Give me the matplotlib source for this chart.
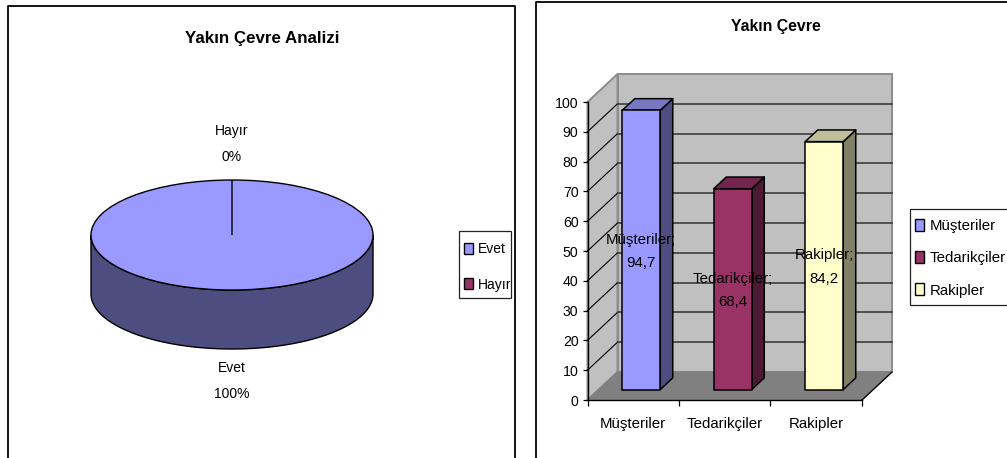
import matplotlib
matplotlib.use("Agg")
import matplotlib.pyplot as plt
import numpy as np
from matplotlib.patches import Polygon, Rectangle, Patch

W, H = 1007, 458
DPI = 100

# Yakın Çevre Analizi (pie)
pie_labels = ["Evet", "Hayır"]
pie_values = [100, 0]
# Yakın Çevre (bars)
bar_labels = ["Müşteriler", "Tedarikçiler", "Rakipler"]
bar_values = [94.7, 68.4, 84.2]
value_ticks = [0, 10, 20, 30, 40, 50, 60, 70, 80, 90, 100]

FACE = ["#9999FF", "#993366", "#FFFFCC"]
TOP = ["#7777C2", "#73264D", "#BFBF99"]
SIDE = ["#4D4D80", "#4D1A33", "#808066"]

plt.rcParams["font.family"] = ["Liberation Sans", "DejaVu Sans"]
FS_PIE = 10.0
FS_BAR = 10.8


def px_axes(fig, left, top, right, bottom):
    return fig.add_axes([left / W, 1 - bottom / H, (right - left) / W, (bottom - top) / H])


fig = plt.figure(figsize=(W / DPI, H / DPI), dpi=DPI, facecolor="white")

# Panel frames, open towards the page edge
bg = fig.add_axes([0, 0, 1, 1])
bg.set_xlim(0, W)
bg.set_ylim(H, 0)
bg.axis("off")
bg.plot([7.5, 7.5, 515, 515], [H, 6, 6, H], color="black", lw=1.3)
bg.plot([536, 536, W], [H, 2, 2], color="black", lw=1.3)

bg.text(262, 39, "Yakın Çevre Analizi", ha="center", va="center", fontsize=12.2, fontweight="bold")
bg.text(776, 27, "Yakın Çevre", ha="center", va="center", fontsize=11.4, fontweight="bold")

# Pie: cylinder side below, sliced top face above
RX, RY, DEPTH = 141, 55, 59
pie_cx, pie_cy = 232, 235
depth_units = DEPTH / RY
ax_pie = px_axes(fig, pie_cx - RX, pie_cy - RY, pie_cx + RX, pie_cy + RY + DEPTH)
theta = np.linspace(np.pi, 2 * np.pi, 200)
side_x = np.concatenate([np.cos(theta), np.cos(theta[::-1])])
side_y = np.concatenate([np.sin(theta) - depth_units, np.sin(theta[::-1])])
ax_pie.add_patch(Polygon(np.column_stack([side_x, side_y]), closed=True, facecolor=SIDE[0],
                         edgecolor="black", lw=1.0, clip_on=False))
ax_pie.pie(pie_values, colors=FACE[:2], startangle=90, counterclock=False, radius=1,
           wedgeprops=dict(edgecolor="black", linewidth=1.0, clip_on=False))
ax_pie.set_aspect("auto")
ax_pie.set_xlim(-1, 1)
ax_pie.set_ylim(-1 - depth_units, 1)
ax_pie.axis("off")

for name, val, y in zip(pie_labels, pie_values, [381, 144]):
    bg.text(pie_cx, y, f"{name}\n{val}%", ha="center", va="center", fontsize=FS_PIE, linespacing=2.05)

# Bars on a front plane 0..3 / 0..100 with a projected depth
L, R, T, B = 587.5, 862, 102, 400
ax = px_axes(fig, L, T, R, B)
ax.set_xlim(0, 3)
ax.set_ylim(0, 100)
ax.patch.set_visible(False)
PX_X = 3 / (R - L)
PX_Y = 100 / (B - T)
SLOPE = 28 / 30
WALL = 30


def proj(x, v, d):
    return (x + d * PX_X, v + d * SLOPE * PX_Y)


ax.add_patch(Polygon([proj(0, 0, WALL), proj(3, 0, WALL), proj(3, 100, WALL), proj(0, 100, WALL)],
                     facecolor="#C0C0C0", edgecolor="#8C8C8C", lw=1.4, clip_on=False, zorder=1))
ax.add_patch(Polygon([proj(0, 0, 0), proj(0, 0, WALL), proj(0, 100, WALL), proj(0, 100, 0)],
                     facecolor="#C0C0C0", edgecolor="#8C8C8C", lw=1.4, clip_on=False, zorder=1))
ax.add_patch(Polygon([proj(0, 0, 0), proj(3, 0, 0), proj(3, 0, WALL), proj(0, 0, WALL)],
                     facecolor="#808080", edgecolor="#808080", lw=1.0, clip_on=False, zorder=1))
for v in value_ticks[1:-1]:
    pts = [proj(0, v, 0), proj(0, v, WALL), proj(3, v, WALL)]
    ax.plot(*zip(*pts[:2]), color="black", lw=0.8, clip_on=False, zorder=2)
    ax.plot(*zip(*pts[1:]), color="#3C3C3C", lw=1.2, clip_on=False, zorder=2)
ax.plot(*zip(proj(3, 0, 0), proj(3, 0, WALL)), color="black", lw=0.9, clip_on=False, zorder=2)

BASE = 1.0
WIDTH = 38 * PX_X
D0, D1 = 8, 20.5
for i, v in enumerate(bar_values):
    x0 = i + 0.5 - WIDTH / 2
    x1 = x0 + WIDTH
    kw = dict(edgecolor="black", lw=1.1, clip_on=False, zorder=3, joinstyle="round")
    ax.add_patch(Polygon([proj(x1, BASE, D0), proj(x1, BASE, D1), proj(x1, v, D1), proj(x1, v, D0)],
                         facecolor=SIDE[i], **kw))
    ax.add_patch(Polygon([proj(x0, v, D0), proj(x1, v, D0), proj(x1, v, D1), proj(x0, v, D1)],
                         facecolor=TOP[i], **kw))
    ax.add_patch(Polygon([proj(x0, BASE, D0), proj(x1, BASE, D0), proj(x1, v, D0), proj(x0, v, D0)],
                         facecolor=FACE[i], **kw))
    cx, cy = proj(i + 0.5, v / 2, D0)
    ax.text(cx, cy, f"{bar_labels[i]};\n{str(v).replace('.', ',')}", ha="center", va="center",
            fontsize=FS_BAR, linespacing=1.85, zorder=4, clip_on=False)

for s in ("top", "right"):
    ax.spines[s].set_visible(False)
for s in ("left", "bottom"):
    ax.spines[s].set_linewidth(1.0)
    ax.spines[s].set_zorder(2.5)
ax.set_yticks(value_ticks)
ax.set_yticklabels([str(t) for t in value_ticks], fontsize=10.2)
ax.tick_params(axis="y", length=3.5, width=0.9, pad=3)
ax.set_xticks(range(4))
ax.set_xticklabels([])
ax.tick_params(axis="x", which="major", length=4.5, width=0.9)
ax.set_xticks(np.arange(3) + 0.5, minor=True)
ax.set_xticklabels(bar_labels, minor=True, fontsize=FS_BAR)
ax.tick_params(axis="x", which="minor", length=0, pad=12)


def legend(labels, colors, box, anchor, fontsize, spacing, hlen):
    bg.add_patch(Rectangle((box[0], box[1]), box[2] - box[0], box[3] - box[1], facecolor="white",
                           edgecolor="#222222", lw=0.9, clip_on=False, zorder=5))
    h = [Patch(facecolor=c, edgecolor="black", lw=1.0) for c in colors]
    return fig.legend(h, labels, loc="upper left", bbox_to_anchor=(anchor[0] / W, 1 - anchor[1] / H),
                      fontsize=fontsize, frameon=False, borderaxespad=0, borderpad=0,
                      handlelength=hlen, handleheight=0.85, handletextpad=0.36,
                      labelspacing=spacing)


legend(pie_labels, FACE[:2], (459, 231, 511, 298), (464, 242), FS_PIE, 1.55, 0.62)
legend(bar_labels, FACE, (910, 209, W + 5, 305), (915, 219), FS_BAR, 1.2, 0.62)

fig.savefig("out.png", dpi=DPI, facecolor="white")
